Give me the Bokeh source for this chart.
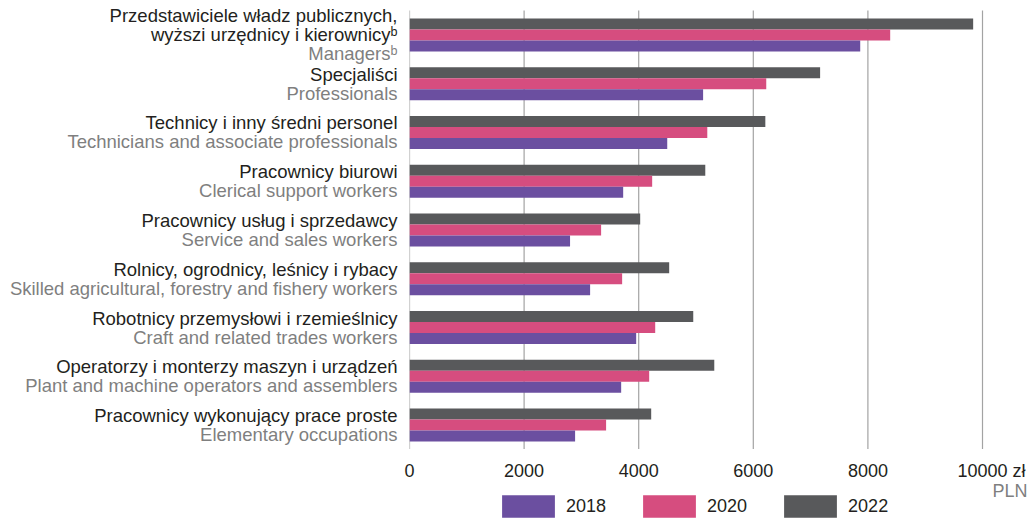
from bokeh.plotting import figure
from bokeh.layouts import row, column
from bokeh.models import (ColumnDataSource, Range1d, Legend, LegendItem)
from bokeh.transform import dodge
from bokeh.core.properties import value
from bokeh.embed import file_html
from bokeh.resources import INLINE

# ---------------- data ----------------
categories = ["Managers", "Professionals", "Technicians", "Clerical", "Service",
              "Agricultural", "Craft", "Operators", "Elementary"]
labels_pl = [
    ["Przedstawiciele władz publicznych,", "wyższi urzędnicy i kierownicyᵇ"],
    ["Specjaliści"],
    ["Technicy i inny średni personel"],
    ["Pracownicy biurowi"],
    ["Pracownicy usług i sprzedawcy"],
    ["Rolnicy, ogrodnicy, leśnicy i rybacy"],
    ["Robotnicy przemysłowi i rzemieślnicy"],
    ["Operatorzy i monterzy maszyn i urządzeń"],
    ["Pracownicy wykonujący prace proste"],
]
labels_en = [
    "Managersᵇ",
    "Professionals",
    "Technicians and associate professionals",
    "Clerical support workers",
    "Service and sales workers",
    "Skilled agricultural, forestry and fishery workers",
    "Craft and related trades workers",
    "Plant and machine operators and assemblers",
    "Elementary occupations",
]
years = ["2018", "2020", "2022"]
values_2018 = [7866, 5124, 4498, 3729, 2802, 3152, 3956, 3694, 2890]
values_2020 = [8389, 6226, 5197, 4235, 3344, 3711, 4288, 4183, 3431]
values_2022 = [9837, 7166, 6210, 5162, 4026, 4532, 4952, 5319, 4218]
tick_values = [0, 2000, 4000, 6000, 8000, 10000]
unit_pl = "zł"
unit_en = "PLN"

# ---------------- style ----------------
FONT = "Liberation Sans"
C2018 = "#6b4fa0"
C2020 = "#d64d7f"
C2022 = "#58595b"
TXT = "#231f20"
TXT_EN = "#7f7f7f"
GRID = "#a3a3a3"
LEFT_W = 409
FRAME_W = 624
FRAME_H = 439
TOP = 10
BOTTOM_H = 71
XMAX = 10890


def base_fig(**kw):
    return figure(title=None, x_axis_location=None, y_axis_location=None,
                  toolbar_location=None, output_backend="svg",
                  outline_line_color=None, min_border_left=0, min_border_right=0,
                  min_border_top=0, min_border_bottom=0, **kw)


n_cat = len(categories)
pitch_px = FRAME_H / n_cat
# one unit per category, categories listed top to bottom
cat_pos = [n_cat - i - 0.5 for i in range(n_cat)]
y_range = Range1d(0, n_cat + TOP / pitch_px)
x_range = Range1d(0, XMAX)

# ---------------- main chart ----------------
p = base_fig(x_range=x_range, y_range=y_range, frame_width=FRAME_W,
             frame_height=FRAME_H + TOP)
p.grid.visible = False

# value grid lines spanning the category band
p.segment(x0=tick_values, x1=tick_values, y0=0, y1=n_cat,
          line_color=GRID, line_width=1.2)

src = ColumnDataSource(dict(cat=categories, pos=cat_pos, v2018=values_2018,
                            v2020=values_2020, v2022=values_2022))
bh = 11 / pitch_px
p.hbar(y=dodge("pos", bh, range=p.y_range), left=0, right="v2022",
       height=bh, fill_color=C2022, line_color=None, source=src)
p.hbar(y=dodge("pos", 0, range=p.y_range), left=0, right="v2020",
       height=bh, fill_color=C2020, line_color=None, source=src)
p.hbar(y=dodge("pos", -bh, range=p.y_range), left=0, right="v2018",
       height=bh, fill_color=C2018, line_color=None, source=src)

# ---------------- category labels ----------------
lab_y, lab_txt, lab_off, lab_col = [], [], [], []
step = 19
for pos, pl, en in zip(cat_pos, labels_pl, labels_en):
    lines = pl + [en]
    cols = [TXT] * len(pl) + [TXT_EN]
    n = len(lines)
    for k, (t, c) in enumerate(zip(lines, cols)):
        lab_y.append(pos)
        lab_txt.append(t)
        lab_off.append((k - (n - 1) / 2) * step)
        lab_col.append(c)

left = base_fig(x_range=Range1d(0, 1), y_range=y_range,
                frame_width=LEFT_W, frame_height=FRAME_H + TOP)
left.grid.visible = False
lsrc = ColumnDataSource(dict(y=lab_y, txt=lab_txt, off=lab_off, col=lab_col))
left.text(x=1, y="y", text="txt", x_offset=-12, y_offset="off",
          text_align="right", text_baseline="middle", text_color="col",
          text_font=value(FONT), text_font_size=value("18.5px"), source=lsrc)

# ---------------- value scale labels + legend (below) ----------------
bottom = base_fig(x_range=Range1d(-LEFT_W * XMAX / FRAME_W, XMAX),
                  y_range=Range1d(0, BOTTOM_H), frame_width=LEFT_W + FRAME_W,
                  frame_height=BOTTOM_H)
bottom.grid.visible = False
tsrc = ColumnDataSource(dict(x=tick_values, txt=[str(v) for v in tick_values]))
bottom.text(x="x", y=50, text="txt", text_align="center", text_baseline="middle",
            text_color=TXT, text_font=value(FONT), text_font_size=value("18px"),
            source=tsrc)
bottom.text(x=[tick_values[-1]], y=[50], text=[unit_pl], x_offset=30,
            text_align="left", text_baseline="middle", text_color=TXT,
            text_font=value(FONT), text_font_size=value("18px"))
bottom.text(x=[tick_values[-1]], y=[30], text=[unit_en], x_offset=45,
            text_align="right", text_baseline="middle", text_color=TXT_EN,
            text_font=value(FONT), text_font_size=value("18px"))

# legend swatches: zero-length bars carrying the series fills
l18 = bottom.hbar(y=[0], left=[0], right=[0], height=0, fill_color=C2018, line_color=None)
l20 = bottom.hbar(y=[0], left=[0], right=[0], height=0, fill_color=C2020, line_color=None)
l22 = bottom.hbar(y=[0], left=[0], right=[0], height=0, fill_color=C2022, line_color=None)
legend = Legend(items=[LegendItem(label=years[0], renderers=[l18]),
                       LegendItem(label=years[1], renderers=[l20]),
                       LegendItem(label=years[2], renderers=[l22])],
                orientation="horizontal", location=(LEFT_W + 86, 0),
                glyph_width=66, glyph_height=28, label_standoff=5, spacing=30,
                padding=0, margin=0, border_line_color=None,
                background_fill_alpha=0, label_text_font=FONT,
                label_text_font_size="18px", label_text_color=TXT)
bottom.add_layout(legend)

layout = column(row(left, p), bottom)
open("out.html", "w").write(file_html(layout, INLINE))
